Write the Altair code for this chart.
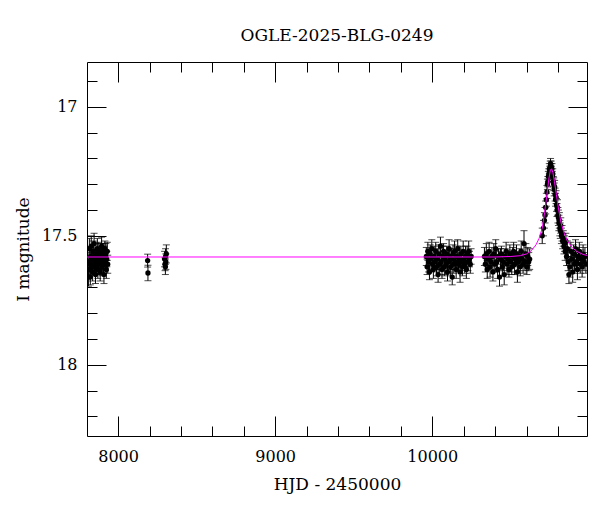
import altair as alt
import pandas as pd

# ---------------- data ----------------
t = [
    # season 1
    7808, 7811, 7814, 7817, 7820, 7823, 7826, 7829, 7832, 7835, 7838, 7841, 7844, 7847, 7850,
    7853, 7856, 7859, 7862, 7865, 7868, 7871, 7874, 7877, 7880, 7883, 7886, 7889, 7892, 7895,
    7898, 7901, 7904, 7907, 7910, 7913, 7916, 7919, 7922, 7925, 7928, 7931, 7934,
    # isolated points
    8188, 8190,
    8296, 8299, 8301, 8302, 8304, 8307,
    # season 2
    9962, 9967, 9972, 9977, 9982, 9987, 9992, 9997, 10002, 10007, 10012, 10017, 10022, 10027,
    10032, 10037, 10042, 10047, 10052, 10057, 10062, 10067, 10072, 10077, 10082, 10087, 10092,
    10097, 10102, 10107, 10112, 10117, 10122, 10127, 10132, 10137, 10142, 10147, 10152, 10157,
    10162, 10167, 10172, 10177, 10182, 10187, 10192, 10197, 10202, 10207, 10212, 10217, 10222,
    10227, 10232, 10237, 10242, 10247,
    # season 3
    10332, 10338, 10344, 10350, 10356, 10362, 10368, 10374, 10380, 10386, 10392, 10398, 10404,
    10410, 10416, 10422, 10428, 10434, 10440, 10446, 10452, 10458, 10464, 10470, 10476, 10482,
    10488, 10494, 10500, 10506, 10512, 10518, 10524, 10530, 10536, 10542, 10548, 10554, 10560,
    10566, 10572, 10578, 10584, 10590, 10596, 10602, 10608, 10614, 10620,
    # event season
    10700, 10708, 10714, 10718, 10722, 10726, 10730, 10733, 10736, 10739, 10742, 10745, 10748,
    10751, 10753, 10755, 10757, 10759, 10762, 10764, 10767, 10770, 10773, 10776, 10779, 10782,
    10785, 10788, 10791, 10794, 10797, 10800, 10803, 10806, 10809, 10812, 10815, 10818, 10822,
    10826, 10830, 10834, 10838, 10842, 10846, 10850, 10855, 10860, 10865, 10870, 10876, 10882,
    10888, 10894, 10900, 10906, 10912, 10918, 10924, 10930, 10936, 10942, 10948, 10954, 10960,
    10966, 10972, 10978,
]
mag = [
    17.60, 17.66, 17.63, 17.55, 17.61, 17.66, 17.58, 17.54, 17.62, 17.59, 17.64, 17.56, 17.60,
    17.53, 17.61, 17.58, 17.65, 17.57, 17.62, 17.59, 17.55, 17.63, 17.60, 17.56, 17.61, 17.58,
    17.64, 17.57, 17.60, 17.54, 17.62, 17.59, 17.56, 17.61, 17.65, 17.58, 17.55, 17.60, 17.57,
    17.63, 17.59, 17.56, 17.61,
    17.596, 17.644,
    17.59, 17.61, 17.62, 17.58, 17.60, 17.57,
    17.58, 17.62, 17.56, 17.60, 17.64, 17.57, 17.59, 17.55, 17.61, 17.63, 17.58, 17.60, 17.56,
    17.62, 17.59, 17.65, 17.57, 17.61, 17.54, 17.60, 17.63, 17.58, 17.56, 17.62, 17.59, 17.61,
    17.57, 17.64, 17.60, 17.55, 17.58, 17.62, 17.59, 17.66, 17.57, 17.61, 17.56, 17.60, 17.63,
    17.58, 17.55, 17.61, 17.59, 17.64, 17.57, 17.60, 17.62, 17.56, 17.59, 17.61, 17.58, 17.63,
    17.57, 17.60, 17.56, 17.59, 17.61, 17.58,
    17.58, 17.61, 17.57, 17.63, 17.59, 17.56, 17.62, 17.60, 17.58, 17.64, 17.57, 17.61, 17.55,
    17.60, 17.63, 17.58, 17.66, 17.59, 17.57, 17.62, 17.60, 17.65, 17.58, 17.56, 17.61, 17.59,
    17.63, 17.57, 17.60, 17.62, 17.58, 17.56, 17.61, 17.59, 17.57, 17.64, 17.60, 17.58, 17.62,
    17.56, 17.59, 17.61, 17.53, 17.60, 17.57, 17.62, 17.58, 17.60, 17.59,
    17.50, 17.47, 17.44, 17.42, 17.39, 17.36, 17.33, 17.30, 17.29, 17.27, 17.26, 17.24, 17.25,
    17.23, 17.22, 17.24, 17.23, 17.25, 17.24, 17.27, 17.26, 17.29, 17.30, 17.32, 17.31, 17.34,
    17.36, 17.35, 17.38, 17.40, 17.39, 17.42, 17.43, 17.45, 17.44, 17.47, 17.48, 17.46, 17.50,
    17.49, 17.52, 17.51, 17.54, 17.53, 17.56, 17.52, 17.58, 17.55, 17.60, 17.65, 17.62, 17.56,
    17.59, 17.64, 17.57, 17.61, 17.55, 17.60, 17.63, 17.58, 17.56, 17.61, 17.59, 17.62, 17.57,
    17.60, 17.58, 17.61,
]
err = [
    0.035, 0.035, 0.03, 0.04, 0.035, 0.03, 0.035, 0.04, 0.03, 0.035, 0.035, 0.04, 0.03, 0.04,
    0.035, 0.03, 0.035, 0.04, 0.03, 0.035, 0.04, 0.035, 0.03, 0.035, 0.04, 0.03, 0.035, 0.04,
    0.03, 0.035, 0.035, 0.04, 0.03, 0.035, 0.035, 0.04, 0.03, 0.035, 0.04, 0.035, 0.03, 0.035,
    0.035,
    0.025, 0.03,
    0.03, 0.025, 0.03, 0.03, 0.03, 0.035,
    0.035, 0.03, 0.035, 0.04, 0.03, 0.035, 0.04, 0.035, 0.03, 0.035, 0.04, 0.03, 0.035, 0.035,
    0.04, 0.03, 0.035, 0.04, 0.035, 0.03, 0.035, 0.04, 0.03, 0.035, 0.035, 0.04, 0.03, 0.035,
    0.04, 0.035, 0.03, 0.035, 0.04, 0.03, 0.035, 0.035, 0.04, 0.03, 0.035, 0.04, 0.035, 0.03,
    0.035, 0.04, 0.03, 0.035, 0.035, 0.04, 0.03, 0.035, 0.04, 0.035, 0.03, 0.035, 0.04, 0.03,
    0.035, 0.03,
    0.035, 0.03, 0.04, 0.035, 0.03, 0.035, 0.04, 0.03, 0.035, 0.035, 0.04, 0.03, 0.035, 0.04,
    0.035, 0.03, 0.035, 0.04, 0.03, 0.035, 0.035, 0.04, 0.03, 0.035, 0.04, 0.035, 0.03, 0.035,
    0.04, 0.03, 0.035, 0.035, 0.04, 0.03, 0.035, 0.04, 0.035, 0.03, 0.035, 0.04, 0.03, 0.035,
    0.05, 0.035, 0.04, 0.03, 0.035, 0.035, 0.04,
    0.03, 0.03, 0.03, 0.03, 0.025, 0.025, 0.025, 0.02, 0.02, 0.02, 0.02, 0.02, 0.02, 0.02,
    0.02, 0.02, 0.02, 0.02, 0.02, 0.02, 0.02, 0.02, 0.025, 0.025, 0.025, 0.025, 0.025, 0.025,
    0.025, 0.025, 0.03, 0.03, 0.03, 0.03, 0.03, 0.03, 0.03, 0.03, 0.03, 0.03, 0.03, 0.03,
    0.03, 0.03, 0.035, 0.03, 0.035, 0.03, 0.035, 0.035, 0.04, 0.035, 0.035, 0.04, 0.035, 0.035,
    0.035, 0.035, 0.04, 0.035, 0.035, 0.035, 0.035, 0.04, 0.035, 0.035, 0.035, 0.035,
]

# fitted model curve
model_t = [7802, 10400, 10500, 10560, 10600, 10630, 10660, 10680, 10700, 10715, 10730, 10742,
           10752, 10760, 10768, 10778, 10790, 10805, 10820, 10840, 10860, 10890, 10920, 10960, 10985]
model_mag = [17.582, 17.582, 17.580, 17.577, 17.570, 17.558, 17.535, 17.510, 17.470, 17.410,
             17.340, 17.280, 17.245, 17.240, 17.255, 17.290, 17.340, 17.400, 17.450, 17.490,
             17.520, 17.545, 17.560, 17.572, 17.576]

x_major = [8000, 9000, 10000]
x_minor = [7800, 8200, 8400, 8600, 8800, 9200, 9400, 9600, 9800, 10200, 10400, 10600, 10800]
y_major = [17, 17.5, 18]
y_minor = [16.9, 17.1, 17.2, 17.3, 17.4, 17.6, 17.7, 17.8, 17.9, 18.1, 18.2]

title_text = "OGLE-2025-BLG-0249"
x_title = "HJD - 2450000"
y_title = "I magnitude"

# ---------------- chart ----------------
df = pd.DataFrame({"t": t, "mag": mag, "err": err})
df["lo"] = df["mag"] - df["err"]
df["hi"] = df["mag"] + df["err"]
model = pd.DataFrame({"t": model_t, "mag": model_mag})

FONT = "DejaVu Serif"
xs = alt.Scale(domain=[7802, 10985], nice=False, zero=False)
ys = alt.Scale(domain=[16.826, 18.276], nice=False, zero=False, reverse=True)


def tick_axis(orient, values, size):
    return alt.Axis(orient=orient, values=values, labels=False, domain=False, grid=False,
                    ticks=True, tickSize={"expr": str(-size)}, tickColor="black",
                    tickWidth=1, title=None)


ax_x_lab = alt.Axis(orient="bottom", values=x_major, ticks=False, domain=False, grid=False,
                    labelPadding=12, format="d", title=x_title, titlePadding=12)
ax_y_lab = alt.Axis(orient="left", values=y_major, ticks=False, domain=False, grid=False,
                    labelPadding=10, format="~g", title=y_title, titlePadding=9)

bars = alt.Chart(df).mark_rule(color="black", strokeWidth=1, clip=True).encode(
    x=alt.X("t:Q", scale=xs, axis=ax_x_lab),
    y=alt.Y("lo:Q", scale=ys, axis=ax_y_lab),
    y2="hi:Q",
)
caps_hi = alt.Chart(df).mark_tick(color="black", orient="horizontal", size=7, thickness=1,
                                  clip=True).encode(
    x=alt.X("t:Q", scale=xs, axis=tick_axis("bottom", x_major, 20)),
    y=alt.Y("hi:Q", scale=ys, axis=tick_axis("left", y_major, 19)),
)
caps_lo = alt.Chart(df).mark_tick(color="black", orient="horizontal", size=7, thickness=1,
                                  clip=True).encode(
    x=alt.X("t:Q", scale=xs, axis=tick_axis("bottom", x_minor, 10)),
    y=alt.Y("lo:Q", scale=ys, axis=tick_axis("left", y_minor, 10)),
)
points = alt.Chart(df).mark_circle(color="black", size=28, opacity=1, clip=True).encode(
    x=alt.X("t:Q", scale=xs, axis=tick_axis("top", x_major, 20)),
    y=alt.Y("mag:Q", scale=ys, axis=tick_axis("right", y_major, 19)),
)
line = alt.Chart(model).mark_line(color="#ff00ff", strokeWidth=1, clip=True).encode(
    x=alt.X("t:Q", scale=xs, axis=tick_axis("top", x_minor, 10)),
    y=alt.Y("mag:Q", scale=ys, axis=tick_axis("right", y_minor, 10)),
)

chart = (
    alt.layer(bars, caps_hi, caps_lo, points, line)
    .resolve_axis(x="independent", y="independent")
    .properties(
        width=500,
        height=374,
        autosize=alt.AutoSizeParams(type="none"),
        padding={"left": 79, "top": 54, "right": 5, "bottom": 60},
        title=alt.TitleParams(title_text, font=FONT, fontSize=17, fontWeight="normal",
                              color="black", offset=17, anchor="middle"),
        background="white",
    )
    .configure_view(stroke="black", strokeWidth=1)
    .configure_axis(labelFont=FONT, titleFont=FONT, labelFontSize=16, titleFontSize=17,
                    labelColor="black", titleColor="black", titleFontWeight="normal")
)

chart.save("out.html", embed_options={"renderer": "svg", "actions": False})
